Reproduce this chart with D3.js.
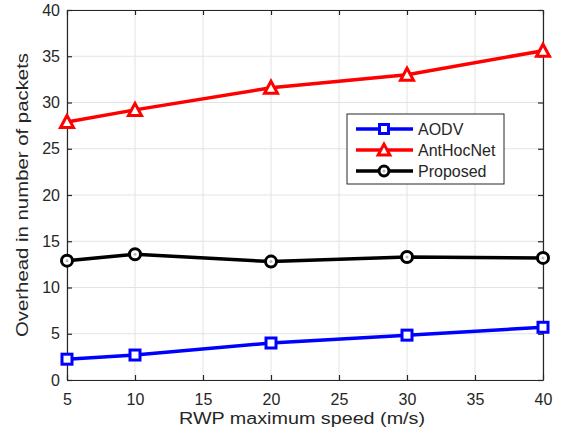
<!DOCTYPE html>
<html><head><meta charset="utf-8">
<script src="https://cdn.jsdelivr.net/npm/d3@7"></script>
<style>body{margin:0;background:#fff}svg{display:block}text{font-family:Helvetica,"Liberation Sans",Arial,sans-serif;fill:#262626}</style>
</head><body><svg id="c" width="562" height="441"></svg>
<script>
const speeds = [5, 10, 20, 30, 40];
const aodv = [2.25, 2.7, 4.0, 4.85, 5.7];
const antHocNet = [27.9, 29.2, 31.6, 33.0, 35.6];
const proposed = [12.9, 13.6, 12.8, 13.3, 13.2];
const xTicks = [5, 10, 15, 20, 25, 30, 35, 40];
const yTicks = [0, 5, 10, 15, 20, 25, 30, 35, 40];
const seriesNames = ["AODV", "AntHocNet", "Proposed"];
const seriesColors = ["#0000ff", "#ff0000", "#000000"];
const seriesMarkers = ["square", "triangle", "circle"];

const svg = d3.select("#c");
const L = 67, R = 543, T = 10, B = 380;
const x = d3.scaleLinear().domain([5, 40]).range([L, R]);
const y = d3.scaleLinear().domain([0, 40]).range([B, T]);

svg.append("rect").attr("x", L).attr("y", T).attr("width", R - L).attr("height", B - T).attr("fill", "#fff");
// grid
const g = svg.append("g");
g.selectAll(".gx").data(xTicks).join("line").attr("x1", d => x(d)).attr("x2", d => x(d)).attr("y1", T).attr("y2", B).attr("stroke", "#e3e3e3").attr("stroke-width", 1);
g.selectAll(".gy").data(yTicks).join("line").attr("y1", d => y(d)).attr("y2", d => y(d)).attr("x1", L).attr("x2", R).attr("stroke", "#e3e3e3").attr("stroke-width", 1);

// axes
const ax = svg.append("g");
ax.append("g").attr("transform", `translate(0,${B})`).call(d3.axisBottom(x).tickValues(xTicks).tickSizeInner(-5).tickSizeOuter(0).tickPadding(14));
ax.append("g").attr("transform", `translate(0,${T})`).call(d3.axisTop(x).tickValues(xTicks).tickSizeInner(-5).tickSizeOuter(0).tickFormat(""));
ax.append("g").attr("transform", `translate(${L},0)`).call(d3.axisLeft(y).tickValues(yTicks).tickSizeInner(-5).tickSizeOuter(0).tickPadding(7));
ax.append("g").attr("transform", `translate(${R},0)`).call(d3.axisRight(y).tickValues(yTicks).tickSizeInner(-5).tickSizeOuter(0).tickFormat(""));
ax.selectAll("path.domain").attr("stroke", "#262626").attr("stroke-width", 1.2);
ax.selectAll(".tick line").attr("stroke", "#262626").attr("stroke-width", 1.2);
ax.selectAll(".tick text").attr("font-size", 16).attr("fill", "#262626").style("font-family", 'Helvetica,"Liberation Sans",Arial,sans-serif');

// labels
svg.append("text").attr("x", 302).attr("y", 424).attr("text-anchor", "middle").attr("font-size", 16)
  .attr("textLength", 246).attr("lengthAdjust", "spacingAndGlyphs").text("RWP maximum speed (m/s)");
svg.append("text").attr("transform", `translate(28,195) rotate(-90)`).attr("text-anchor", "middle").attr("font-size", 17)
  .attr("textLength", 284).attr("lengthAdjust", "spacingAndGlyphs").text("Overhead in number of packets");

const allSeries = [aodv, antHocNet, proposed];
function drawMarker(sel, type, color, cx, cy, scale) {
  const s = scale || 1;
  if (type === "square") {
    sel.append("rect").attr("x", cx - 5 * s).attr("y", cy - 5 * s).attr("width", 10 * s).attr("height", 10 * s).attr("fill", "#fff").attr("stroke", color).attr("stroke-width", 3);
  } else if (type === "triangle") {
    const h = 6.5 * s;
    sel.append("path").attr("d", `M${cx},${cy - h} L${cx + h},${cy + h * 0.85} L${cx - h},${cy + h * 0.85} Z`).attr("fill", "#fff").attr("stroke", color).attr("stroke-width", 3).attr("stroke-linejoin", "miter");
  } else {
    sel.append("circle").attr("cx", cx).attr("cy", cy).attr("r", 5.5 * s).attr("fill", "#fff").attr("stroke", color).attr("stroke-width", 3);
    sel.append("circle").attr("cx", cx).attr("cy", cy).attr("r", 1.5).attr("fill", "#bbb");
  }
}
const line = d3.line().x((d, i) => x(speeds[i])).y(d => y(d));
allSeries.forEach((vals, k) => {
  const gg = svg.append("g");
  gg.append("path").datum(vals).attr("d", line).attr("fill", "none").attr("stroke", seriesColors[k]).attr("stroke-width", 3.5);
  vals.forEach((v, i) => drawMarker(gg, seriesMarkers[k], seriesColors[k], x(speeds[i]), y(v)));
});

// legend
const lg = svg.append("g");
lg.append("rect").attr("x", 347).attr("y", 114).attr("width", 157).attr("height", 70).attr("fill", "#fff").attr("stroke", "#262626").attr("stroke-width", 1);
seriesNames.forEach((n, k) => {
  const cy = 129 + k * 21;
  lg.append("line").attr("x1", 356).attr("x2", 413).attr("y1", cy).attr("y2", cy).attr("stroke", seriesColors[k]).attr("stroke-width", 3.5);
  drawMarker(lg, seriesMarkers[k], seriesColors[k], 384, cy, 0.9);
  lg.append("text").attr("x", 418).attr("y", cy + 6).attr("font-size", 16).attr("fill", "#000").text(n);
});
</script></body></html>
